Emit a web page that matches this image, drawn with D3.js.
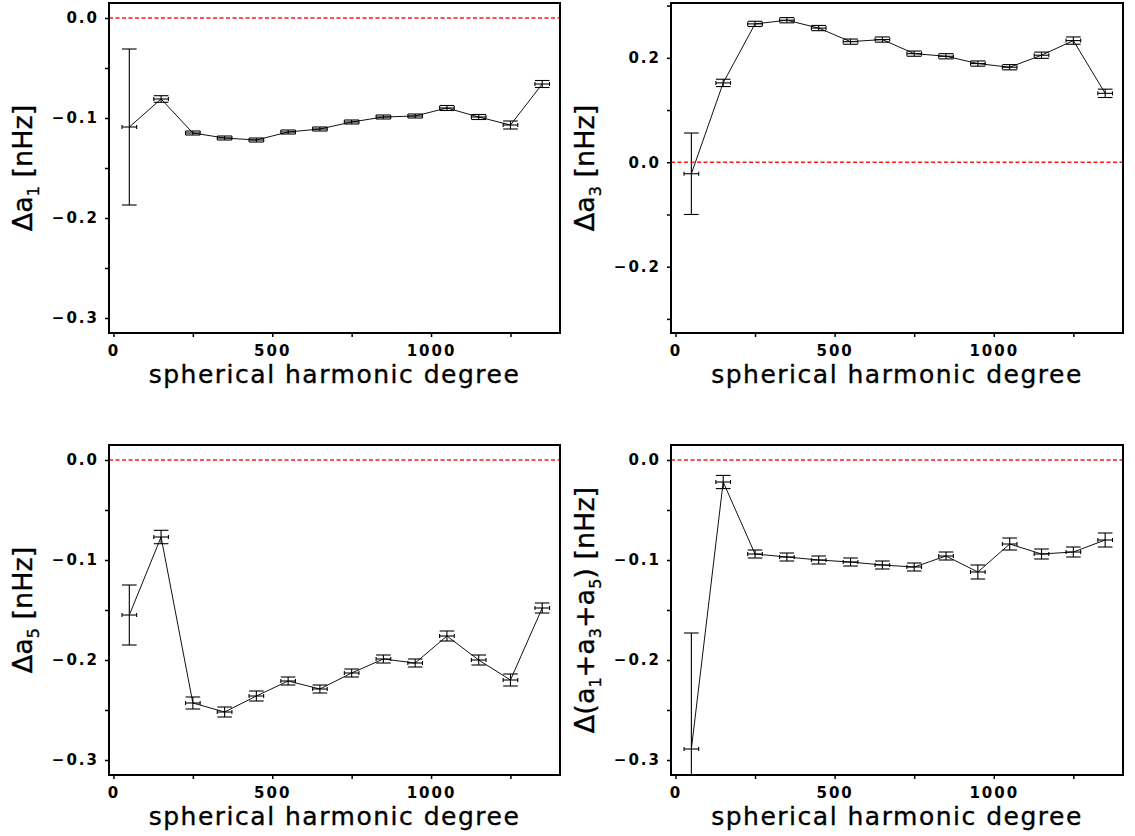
<!DOCTYPE html>
<html>
<head>
<meta charset="utf-8">
<script src="https://cdn.jsdelivr.net/npm/d3@7"></script>
<style>
  html, body { margin: 0; padding: 0; background: #fff; }
  svg { display: block; }
  .tick text { font-family: "DejaVu Sans", sans-serif; font-weight: bold; font-size: 15px; letter-spacing: 2px; fill: #000; }
  .tick line { stroke: #000; stroke-width: 1.5px; }
  .title { font-family: "DejaVu Sans", sans-serif; fill: #000; stroke: #000; stroke-width: 0.35px; }
</style>
</head>
<body>
<svg id="chart" width="1135" height="836"></svg>
<script>
// Binned spherical harmonic degree (bin centres) and half-width of each bin's spread
const degrees = [50, 150, 250, 350, 450, 550, 650, 750, 850, 950, 1050, 1150, 1250, 1350];
const degreeErr = 23;

// Splitting-coefficient differences [nHz] and their 1-sigma errors
const da1    = [-0.109, -0.081, -0.115, -0.120, -0.122, -0.114, -0.111, -0.104, -0.099, -0.098, -0.090, -0.099, -0.107, -0.066];
const da1Err = [ 0.078,  0.0033, 0.002,  0.002,  0.002,  0.002,  0.002,  0.002,  0.002,  0.002,  0.0025, 0.0025, 0.004,  0.0035];

const da3    = [-0.022,  0.152,  0.265,  0.272,  0.257,  0.231,  0.235,  0.208,  0.203,  0.189,  0.182,  0.205,  0.233,  0.132];
const da3Err = [ 0.078,  0.007,  0.005,  0.005,  0.005,  0.005,  0.005,  0.005,  0.005,  0.005,  0.005,  0.006,  0.007,  0.008];

const da5    = [-0.155, -0.077, -0.243, -0.252, -0.236, -0.221, -0.229, -0.213, -0.199, -0.203, -0.176, -0.200, -0.220, -0.148];
const da5Err = [ 0.030,  0.0067, 0.006,  0.005,  0.005,  0.004,  0.004,  0.004,  0.004,  0.004,  0.005,  0.005,  0.006,  0.005];

const dSum    = [-0.289, -0.022, -0.094, -0.097, -0.100, -0.102, -0.105, -0.107, -0.096, -0.112, -0.084, -0.094, -0.092, -0.080];
const dSumErr = [ 0.116,  0.0066, 0.004,  0.004,  0.004,  0.004,  0.004,  0.004,  0.004,  0.007,  0.006,  0.005,  0.005,  0.007];

// Axis ticks
const xTicks = [0, 250, 500, 750, 1000, 1250];
const xLabelStep = 500;
const yTicksFine = [-0.30, -0.25, -0.20, -0.15, -0.10, -0.05, 0.00];
const yTicksWide = [-0.3, -0.2, -0.1, 0.0, 0.1, 0.2, 0.3];

const xTitle = "spherical harmonic degree";

const panels = [
  { values: da1, errors: da1Err, yDomain: [-0.315, 0.015], yTicks: yTicksFine, yLabelStep: 0.1,
    label: [["Δa"], ["1", true], [" [nHz]"]],
    box: { left: 109, top: 3, width: 451, height: 330 } },
  { values: da3, errors: da3Err, yDomain: [-0.327, 0.305], yTicks: yTicksWide, yLabelStep: 0.2,
    label: [["Δa"], ["3", true], [" [nHz]"]],
    box: { left: 671, top: 3, width: 452, height: 330 } },
  { values: da5, errors: da5Err, yDomain: [-0.315, 0.015], yTicks: yTicksFine, yLabelStep: 0.1,
    label: [["Δa"], ["5", true], [" [nHz]"]],
    box: { left: 109, top: 445, width: 451, height: 330 } },
  { values: dSum, errors: dSumErr, yDomain: [-0.315, 0.015], yTicks: yTicksFine, yLabelStep: 0.1,
    label: [["Δ(a"], ["1", true], ["+a"], ["3", true], ["+a"], ["5", true], [") [nHz]"]],
    box: { left: 671, top: 445, width: 452, height: 330 } }
];

const svg = d3.select("#chart");
const fmt = d3.format(".1f");
const isMultiple = (v, step) => Math.abs(v / step - Math.round(v / step)) < 1e-6;

panels.forEach((p, i) => {
  const b = p.box;
  const g = svg.append("g").attr("transform", `translate(${b.left},${b.top})`);

  const x = d3.scaleLinear().domain([-14, 1406]).range([0, b.width]);
  const y = d3.scaleLinear().domain(p.yDomain).range([b.height, 0]);

  const clipId = `clip-${i}`;
  g.append("clipPath").attr("id", clipId)
    .append("rect").attr("width", b.width).attr("height", b.height);

  // Axes with outward ticks, labels only on the major steps
  const yAxis = d3.axisLeft(y).tickValues(p.yTicks).tickSize(4).tickPadding(6)
    .tickFormat(v => isMultiple(v, p.yLabelStep) ? fmt(v) : "");
  g.append("g").call(yAxis).call(s => s.select(".domain").remove());

  const xAxis = d3.axisBottom(x).tickValues(xTicks).tickSize(4).tickPadding(8)
    .tickFormat(v => isMultiple(v, xLabelStep) ? String(v) : "");
  g.append("g").attr("transform", `translate(0,${b.height})`).call(xAxis)
    .call(s => s.select(".domain").remove());

  const plot = g.append("g").attr("clip-path", `url(#${clipId})`);

  // zero reference
  plot.append("line")
    .attr("x1", 0).attr("x2", b.width)
    .attr("y1", y(0)).attr("y2", y(0))
    .attr("stroke", "#ff1a1a").attr("stroke-width", 1.4)
    .attr("stroke-dasharray", "4,2.5");

  const pts = degrees.map((l, k) => ({ l, v: p.values[k], e: p.errors[k] }));

  plot.append("path")
    .datum(pts)
    .attr("fill", "none").attr("stroke", "#111").attr("stroke-width", 1)
    .attr("d", d3.line().x(d => x(d.l)).y(d => y(d.v)));

  const eb = plot.selectAll("g.err").data(pts).enter().append("g").attr("class", "err")
    .attr("stroke", "#000").attr("stroke-width", 1.1).attr("fill", "none");

  // vertical (value) error bar and caps
  eb.append("line").attr("x1", d => x(d.l)).attr("x2", d => x(d.l))
    .attr("y1", d => y(d.v - d.e)).attr("y2", d => y(d.v + d.e));
  eb.append("line").attr("x1", d => x(d.l - degreeErr)).attr("x2", d => x(d.l + degreeErr))
    .attr("y1", d => y(d.v + d.e)).attr("y2", d => y(d.v + d.e));
  eb.append("line").attr("x1", d => x(d.l - degreeErr)).attr("x2", d => x(d.l + degreeErr))
    .attr("y1", d => y(d.v - d.e)).attr("y2", d => y(d.v - d.e));

  // horizontal (degree) error bar and caps
  eb.append("line").attr("x1", d => x(d.l - degreeErr)).attr("x2", d => x(d.l + degreeErr))
    .attr("y1", d => y(d.v)).attr("y2", d => y(d.v));
  eb.append("line").attr("x1", d => x(d.l - degreeErr)).attr("x2", d => x(d.l - degreeErr))
    .attr("y1", d => y(d.v) - 2).attr("y2", d => y(d.v) + 2);
  eb.append("line").attr("x1", d => x(d.l + degreeErr)).attr("x2", d => x(d.l + degreeErr))
    .attr("y1", d => y(d.v) - 2).attr("y2", d => y(d.v) + 2);

  // frame
  g.append("rect").attr("width", b.width).attr("height", b.height)
    .attr("fill", "none").attr("stroke", "#000").attr("stroke-width", 2);

  // x title
  g.append("text").attr("class", "title")
    .attr("x", b.width / 2).attr("y", b.height + 50)
    .attr("text-anchor", "middle")
    .style("font-size", "25px").style("letter-spacing", "1.5px")
    .text(xTitle);

  // y title (rotated, with subscripts)
  const yt = g.append("text").attr("class", "title")
    .attr("transform", `translate(-77,${b.height / 2}) rotate(-90)`)
    .attr("text-anchor", "middle")
    .style("font-size", "27px");
  p.label.forEach(([t, sub]) => {
    const ts = yt.append("tspan").text(t);
    if (sub) ts.style("font-size", "16px").attr("dy", "7");
    else if (yt.selectAll("tspan").size() > 1) ts.attr("dy", "-7");
  });
});
</script>
</body>
</html>
